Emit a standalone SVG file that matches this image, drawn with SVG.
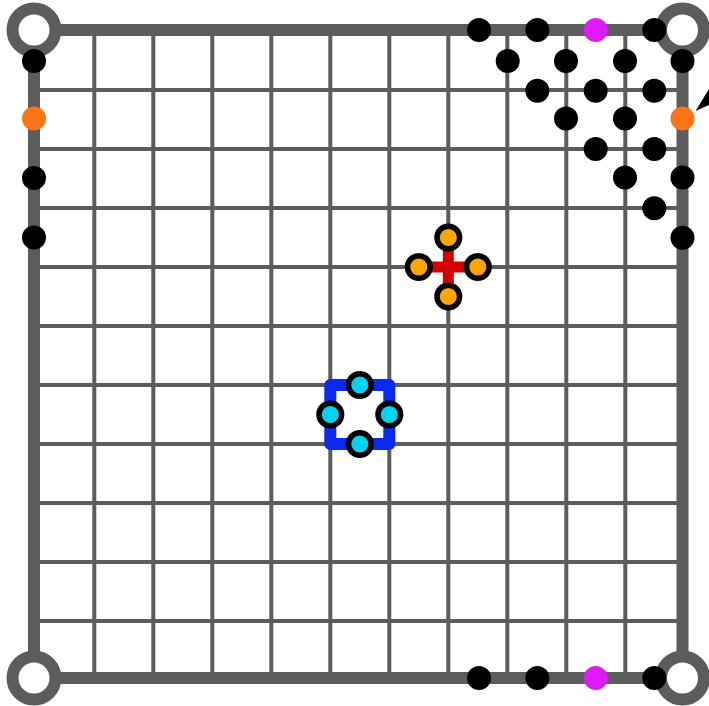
<svg xmlns="http://www.w3.org/2000/svg" width="709" height="706" viewBox="0 0 709 706">
<style>
.grid{stroke:#5c5c5c;stroke-width:4;fill:none}
.border{stroke:#5c5c5c;stroke-width:12;fill:none}
.ring{stroke:#5c5c5c;stroke-width:12;fill:#fff}
.blk{fill:#000}
.org{fill:#fb7417}
.mag{fill:#dd1cf5}
.oc{fill:#ffa500;stroke:#000;stroke-width:5.5}
.cc{fill:#00d2f2;stroke:#000;stroke-width:5.5}
</style>
<rect width="709" height="706" fill="#fff"/>
<g id="grid" class="grid">
<path d="M94.3 30V678M153.3 30V678M212.3 30V678M271.3 30V678M330.3 30V678M389.3 30V678M448.3 30V678M507.3 30V678M566.3 30V678M625.3 30V678"/>
<path d="M34 90H682.5M34 149H682.5M34 208H682.5M34 267H682.5M34 326H682.5M34 385H682.5M34 444H682.5M34 503H682.5M34 562H682.5M34 621H682.5"/>
</g>
<g id="border">
<rect class="border" x="34" y="30" width="648.5" height="648"/>
</g>
<g id="corners">
<circle class="ring" cx="34" cy="30" r="21.5"/>
<circle class="ring" cx="682.5" cy="30" r="21.5"/>
<circle class="ring" cx="34" cy="678" r="21.5"/>
<circle class="ring" cx="682.5" cy="678" r="21.5"/>
</g>
<g id="left-dots">
<circle class="blk" cx="34" cy="61" r="12"/>
<circle class="org" cx="34" cy="118.5" r="12"/>
<circle class="blk" cx="34" cy="178" r="12"/>
<circle class="blk" cx="34" cy="237.5" r="12"/>
</g>
<g id="bottom-dots">
<circle class="blk" cx="479" cy="678" r="12"/>
<circle class="blk" cx="537.3" cy="678" r="12"/>
<circle class="mag" cx="595.7" cy="678" r="12"/>
<circle class="blk" cx="654.3" cy="678" r="12"/>
</g>
<g id="corner-dots">
<circle class="blk" cx="479" cy="30" r="12"/>
<circle class="blk" cx="537.3" cy="30" r="12"/>
<circle class="mag" cx="595.7" cy="30" r="12"/>
<circle class="blk" cx="654.3" cy="30" r="12"/>
<circle class="blk" cx="507.7" cy="61" r="12"/>
<circle class="blk" cx="566" cy="61" r="12"/>
<circle class="blk" cx="625" cy="61" r="12"/>
<circle class="blk" cx="682.5" cy="61" r="12"/>
<circle class="blk" cx="537.3" cy="90.7" r="12"/>
<circle class="blk" cx="595.7" cy="90.7" r="12"/>
<circle class="blk" cx="654.3" cy="90.7" r="12"/>
<circle class="blk" cx="566" cy="118.5" r="12"/>
<circle class="blk" cx="625" cy="118.5" r="12"/>
<circle class="org" cx="682.5" cy="118.5" r="12"/>
<circle class="blk" cx="595.7" cy="149" r="12"/>
<circle class="blk" cx="654.3" cy="149" r="12"/>
<circle class="blk" cx="625" cy="177.5" r="12"/>
<circle class="blk" cx="682.5" cy="177.5" r="12"/>
<circle class="blk" cx="654.3" cy="208.3" r="12"/>
<circle class="blk" cx="682.5" cy="237.7" r="12"/>
</g>
<g id="connectors">
<polygon points="695.5,111 709,89 709,105" fill="#000"/>
</g>
<g id="cross-node">
<path d="M448.3 237.5V296.5M418.8 267H477.8" stroke="#d40000" stroke-width="11" fill="none"/>
<circle class="oc" cx="448.3" cy="237.5" r="11.3"/>
<circle class="oc" cx="448.3" cy="296.5" r="11.3"/>
<circle class="oc" cx="418.8" cy="267" r="11.3"/>
<circle class="oc" cx="477.8" cy="267" r="11.3"/>
</g>
<g id="square-node">
<rect x="330.3" y="385" width="59" height="59" fill="none" stroke="#0a2af0" stroke-width="12" stroke-linejoin="round"/>
<circle class="cc" cx="359.8" cy="385" r="11.3"/>
<circle class="cc" cx="359.8" cy="444" r="11.3"/>
<circle class="cc" cx="330.3" cy="414.5" r="11.3"/>
<circle class="cc" cx="389.3" cy="414.5" r="11.3"/>
</g>
</svg>
